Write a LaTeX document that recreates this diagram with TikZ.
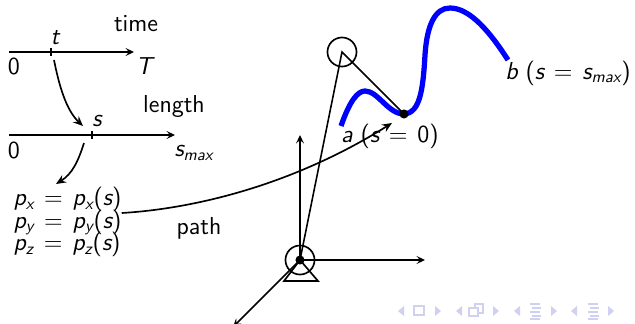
\documentclass[tikz,border=0pt]{standalone}
\renewcommand{\familydefault}{\sfdefault}
\usepackage[italic]{mathastext}
\usetikzlibrary{arrows.meta,positioning,calc}
\DeclareMathSizes{14}{14}{9.5}{7}
\definecolor{navsym}{RGB}{208,208,240}
\newcommand{\lblfont}{\fontsize{14}{16}\selectfont\thickmuskip=7mu\relax}
\newcommand{\eqfont}{\fontsize{14}{12.9}\selectfont\thickmuskip=7mu\lineskiplimit=-10pt\relax}
\tikzset{
  lbl/.style={font=\lblfont, inner sep=0pt},
  eqs/.style={lbl, align=left, font=\eqfont},
  axis/.style={->, >={Stealth[length=1.7mm,width=1.6mm,inset=0.7mm]}, line width=0.95pt},
  flow/.style={->, >={Stealth[length=2mm,width=1.7mm,inset=0.7mm]}, line width=0.95pt},
  link/.style={line width=0.9pt},
  joint/.style={circle, draw, line width=0.95pt, minimum size=16.6pt, inner sep=0pt},
  pin/.style={circle, fill=black, minimum size=5.2pt, inner sep=0pt},
  navtri/.style={fill=navsym, draw=none},
  navline/.style={navsym, line width=0.8pt},
}
\newcommand{\navleft}[1]{\fill[navtri] ($(#1)+(3,-5)$) -- ($(#1)+(-3,0)$) -- ($(#1)+(3,5)$) -- cycle;}
\newcommand{\navright}[1]{\fill[navtri] ($(#1)+(-3,-5)$) -- ($(#1)+(3,0)$) -- ($(#1)+(-3,5)$) -- cycle;}
\newcommand{\navlines}[1]{
  \draw[navline] ($(#1)+(-5,-7)$) -- ($(#1)+(5,-7)$);
  \draw[navline] ($(#1)+(-3,-3)$) -- ($(#1)+(6,-3)$);
  \draw[navline] ($(#1)+(-5,1)$) -- ($(#1)+(5,1)$);
  \draw[navline] ($(#1)+(-3,5)$) -- ($(#1)+(6,5)$);
  \draw[navline] ($(#1)+(-5,8)$) -- ($(#1)+(5,8)$);}
\begin{document}
\begin{tikzpicture}[x=0.5715pt, y=-0.5715pt]
    \useasboundingbox (0,0) rectangle (635,323);
    \clip (0,0) rectangle (635,323);
    % time and length axes
    \coordinate (t0) at (9,52); \coordinate (t1) at (134,52);
    \coordinate (tick1) at (51,52);
    \coordinate (s0) at (9,135); \coordinate (s1) at (175,135);
    \coordinate (tick2) at (92,135);
    \draw[axis] (t0) -- (t1);
    \draw[axis] (s0) -- (s1);
    \draw[axis, -] ($(tick1)+(0,-4)$) -- ($(tick1)+(0,4)$);
    \draw[axis, -] ($(tick2)+(0,-4)$) -- ($(tick2)+(0,4)$);
    \node[lbl] (time) at (136,24) {time};
    \node[lbl] (t) at (55,38) {$t$};
    \node[lbl] (zero1) at (14,66) {$0$};
    \node[lbl] (T) at (144,66) {$T$};
    \node[lbl] (length) at (174,107) {length};
    \node[lbl] (s) at (97,121) {$s$};
    \node[lbl] (zero2) at (14,150) {$0$};
    \node[lbl] (smax) at (194,153) {$s_{max}$};
    \node[eqs] (eq) at (67.5,222) {$p_x = p_x(s)$\\$p_y = p_y(s)$\\$p_z = p_z(s)$};
    \node[lbl] (path) at (199,228) {path};
    \coordinate (from1) at (54,60); \coordinate (to1) at (83,126);
    \coordinate (from2) at (84,143); \coordinate (to2) at (56,184);
    \draw[flow] (from1) .. controls (59,85) and (66,110) .. (to1);
    \draw[flow] (from2) .. controls (78,162) and (72,174) .. (to2);
    % the curve in space
    \coordinate (a) at (341,126); \coordinate (b) at (508,60);
    \coordinate (tip) at (404,114);
    \draw[blue, line width=3pt] (a) .. controls (350,100) and (358,91) .. (365,91)
      .. controls (378,91) and (388,114) .. (tip)
      .. controls (420,113) and (423,90) .. (425,55)
      .. controls (427,25) and (435,8) .. (450,8)
      .. controls (470,8) and (490,32) .. (b);
    \node[lbl] (labela) at (390,136) {$a$ $(s = 0)$};
    \node[lbl] (labelb) at (568,73) {$b$ $(s = s_{max})$};
    % robot
    \coordinate (base) at (300,260);
    \coordinate (elbow) at (342,52);
    \coordinate (x) at (425,260); \coordinate (z) at (300,135); \coordinate (y) at (233,327);
    \draw[axis] (base) -- (x);
    \draw[axis] (base) -- (z);
    \draw[axis] (base) -- (y);
    \draw[link] (base) -- (elbow) -- (tip);
    \node[joint] (j1) at (elbow) {};
    \node[joint] (j0) at (base) {};
    \draw[line width=0.95pt] (base) -- (284,281) -- (318,281) -- cycle;
    \node[pin] (p0) at (base) {};
    \node[pin] (p1) at (tip) {};
    \coordinate (goal) at (392,123);
    \draw[flow] ($(eq.east)+(0,-9)$) .. controls (190,209) and (290,187) .. (goal);
    % navigation symbols
    \navleft{401,311} \draw[navsym, line width=0.9pt] (414,306) rectangle (424,315); \navright{438,311}
    \navleft{459,311}
    \draw[navsym, line width=0.9pt, fill=white] (475,304) rectangle (483,313);
    \draw[navsym, line width=0.9pt, fill=white] (469,308) rectangle (478,316);
    \navright{496,311}
    \navleft{517,311} \navlines{535,311} \navright{554,311}
    \navleft{574,311} \navlines{593,311} \navright{611,311}
\end{tikzpicture}
\end{document}
